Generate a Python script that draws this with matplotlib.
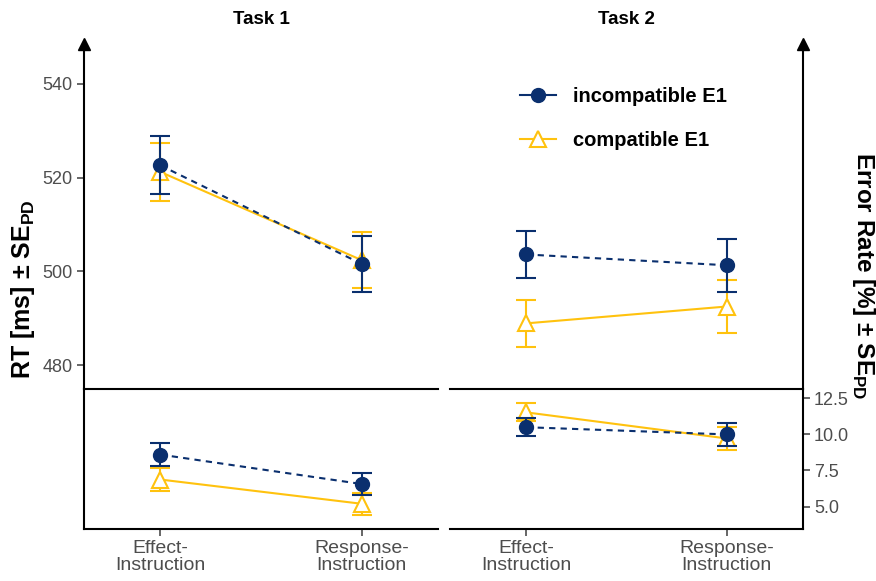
import matplotlib
matplotlib.use("Agg")
import matplotlib.pyplot as plt
from matplotlib.lines import Line2D

plt.rcParams['font.family'] = ['Liberation Sans', 'DejaVu Sans']
plt.rcParams['mathtext.fontset'] = 'custom'
plt.rcParams['mathtext.rm'] = 'Liberation Sans'
plt.rcParams['mathtext.bf'] = 'Liberation Sans:bold'

# ---------------- data ----------------
conditions = ["Effect-\nInstruction", "Response-\nInstruction"]
tasks = ["Task 1", "Task 2"]
series_labels = ["incompatible E1", "compatible E1"]

rt_task1_incomp = [522.6, 501.6]
rt_task1_incomp_se = [6.2, 6.0]
rt_task1_comp = [521.2, 502.4]
rt_task1_comp_se = [6.2, 6.0]
rt_task2_incomp = [503.6, 501.3]
rt_task2_incomp_se = [5.0, 5.7]
rt_task2_comp = [488.9, 492.5]
rt_task2_comp_se = [5.0, 5.6]

err_task1_incomp = [8.6, 6.56]
err_task1_incomp_se = [0.78, 0.74]
err_task1_comp = [6.87, 5.19]
err_task1_comp_se = [0.78, 0.78]
err_task2_incomp = [10.5, 10.0]
err_task2_incomp_se = [0.63, 0.78]
err_task2_comp = [11.53, 9.72]
err_task2_comp_se = [0.62, 0.79]

rt_ticks = [480, 500, 520, 540]
err_ticks = [5.0, 7.5, 10.0, 12.5]

# ---------------- style ----------------
BLUE = "#0A2F6E"
GOLD = "#FFC20E"
TICKC = "#4D4D4D"

W, H = 876, 581
fig = plt.figure(figsize=(W / 100, H / 100), dpi=100)

def fx(px):
    return px / W

def fy(py):
    return 1 - py / H

panels_x = [(84, 438), (450, 803)]
top_y = (44, 389)
bot_y = (389, 529)

rt_data = [
    (rt_task1_incomp, rt_task1_incomp_se, rt_task1_comp, rt_task1_comp_se),
    (rt_task2_incomp, rt_task2_incomp_se, rt_task2_comp, rt_task2_comp_se),
]
err_data = [
    (err_task1_incomp, err_task1_incomp_se, err_task1_comp, err_task1_comp_se),
    (err_task2_incomp, err_task2_incomp_se, err_task2_comp, err_task2_comp_se),
]

xpos = [1, 2]
SPW = 1.5

def draw(ax, inc, inc_se, comp, comp_se):
    # compatible (gold, solid, open triangle)
    ax.errorbar(xpos, comp, yerr=comp_se, color=GOLD, lw=1.5, ls='-',
                marker='^', markersize=12, markerfacecolor='white',
                markeredgecolor=GOLD, markeredgewidth=1.5,
                capsize=7.5, capthick=1.5, elinewidth=1.5, zorder=3)
    # incompatible (blue, dashed, filled circle)
    ax.errorbar(xpos, inc, yerr=inc_se, color=BLUE, lw=1.5, ls=(0, (3, 2.5)),
                marker='o', markersize=10, markerfacecolor=BLUE,
                markeredgecolor=BLUE, capsize=7.5, capthick=1.5,
                elinewidth=1.5, zorder=4)

for i, (x0, x1) in enumerate(panels_x):
    ax_t = fig.add_axes([fx(x0), fy(top_y[1]), fx(x1 - x0), (top_y[1] - top_y[0]) / H])
    ax_b = fig.add_axes([fx(x0), fy(bot_y[1]), fx(x1 - x0), (bot_y[1] - bot_y[0]) / H])
    for ax in (ax_t, ax_b):
        ax.set_facecolor('none')
        ax.set_xlim(0.62, 2.38)
        for s in ax.spines.values():
            s.set_linewidth(SPW)
            s.set_color('black')
        ax.spines['top'].set_visible(False)
        if i == 0:
            ax.spines['right'].set_visible(False)
        else:
            ax.spines['left'].set_visible(False)
    ax_t.set_ylim(474.9, 548.5)
    ax_b.set_ylim(3.44, 13.15)

    draw(ax_t, *rt_data[i])
    draw(ax_b, *err_data[i])

    ax_t.set_xticks([])
    ax_b.set_xticks(xpos)
    ax_b.set_xticklabels(conditions, color=TICKC, fontsize=14, linespacing=1.0)
    ax_b.tick_params(axis='x', length=5, width=1.2, color=TICKC, pad=3)

    if i == 0:
        ax_t.set_yticks(rt_ticks)
        ax_t.set_yticklabels([str(v) for v in rt_ticks], color=TICKC, fontsize=13)
        ax_t.tick_params(axis='y', length=5, width=1.2, color=TICKC, pad=3)
        ax_b.set_yticks([])
        ax_t.plot([0], [1], marker='^', color='black', markersize=9,
                  transform=ax_t.transAxes, clip_on=False, zorder=10)
    else:
        ax_t.set_yticks([])
        ax_b.yaxis.tick_right()
        ax_b.set_yticks(err_ticks)
        ax_b.set_yticklabels([f"{v:.1f}" for v in err_ticks], color=TICKC, fontsize=13)
        ax_b.tick_params(axis='y', length=5, width=1.2, color=TICKC, pad=3)
        ax_t.plot([1], [1], marker='^', color='black', markersize=9,
                  transform=ax_t.transAxes, clip_on=False, zorder=10)

    fig.text(fx((x0 + x1) / 2), fy(20), tasks[i], ha='center', va='center',
             fontsize=13.5, fontweight='bold')

    if i == 1:
        handles = [
            Line2D([], [], color=BLUE, lw=1.5, marker='o', markersize=10,
                   markerfacecolor=BLUE, markeredgecolor=BLUE),
            Line2D([], [], color=GOLD, lw=1.5, marker='^', markersize=12,
                   markerfacecolor='white', markeredgecolor=GOLD, markeredgewidth=1.5),
        ]
        ax_t.legend(handles, series_labels, loc='upper left',
                    bbox_to_anchor=(fx(520), fy(87)),
                    bbox_transform=fig.transFigure, frameon=False,
                    prop={'weight': 'bold', 'size': 14.5},
                    handlelength=1.8, handletextpad=0.85,
                    labelspacing=1.25, borderpad=0, borderaxespad=0)

fig.text(fx(23), fy(289), r"RT [ms] ± SE$_\mathbf{PD}$", rotation=90,
         ha='center', va='center', fontsize=18, fontweight='bold')
fig.text(fx(864), fy(276), r"Error Rate [%] ± SE$_\mathbf{PD}$", rotation=-90,
         ha='center', va='center', fontsize=17.5, fontweight='bold')

fig.savefig("out.png", dpi=100)
